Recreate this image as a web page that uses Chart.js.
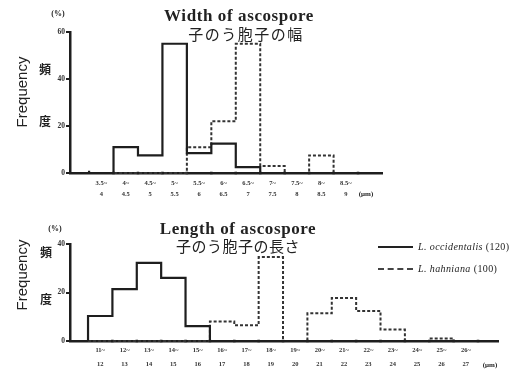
<!DOCTYPE html>
<html><head><meta charset="utf-8">
<script src="https://cdn.jsdelivr.net/npm/chart.js@4.4.1/dist/chart.umd.min.js"></script>
<style>
body{margin:0;width:512px;height:371px;position:relative;background:#fff;overflow:hidden;color:#222}
.t{position:absolute;white-space:nowrap;transform:translate(-50%,-50%);line-height:1}
.ser{font-family:"Liberation Serif","DejaVu Serif",serif}
.jp{font-family:"Noto Sans CJK JP",sans-serif}
canvas{position:absolute;left:0}
</style></head>
<body>
<canvas id="c1" width="512" height="200" style="top:0"></canvas>
<canvas id="c2" width="512" height="171" style="top:200px"></canvas>

<div class="t ser" style="left:239px;top:15px;font-size:17px;font-weight:bold;letter-spacing:0.6px">Width of ascospore</div>
<div class="t jp" style="left:246px;top:33px;font-size:15px;letter-spacing:1.5px">子のう胞子の幅</div>
<div class="t ser" style="left:238px;top:228px;font-size:17px;font-weight:bold;letter-spacing:0.6px">Length of ascospore</div>
<div class="t jp" style="left:238px;top:245px;font-size:15px;letter-spacing:0.5px">子のう胞子の長さ</div>

<div class="t ser" style="left:58px;top:14px;font-size:8px;font-weight:bold">(%)</div>
<div class="t ser" style="left:55px;top:229px;font-size:8px;font-weight:bold">(%)</div>

<div class="t" style="left:21px;top:92px;font-size:15px;font-family:'Liberation Sans',sans-serif;transform:translate(-50%,-50%) rotate(-90deg)">Frequency</div>
<div class="t" style="left:21px;top:275px;font-size:15px;font-family:'Liberation Sans',sans-serif;transform:translate(-50%,-50%) rotate(-90deg)">Frequency</div>
<div class="t jp" style="left:45px;top:69px;font-size:12px;font-weight:bold">頻</div>
<div class="t jp" style="left:45px;top:121px;font-size:12px;font-weight:bold">度</div>
<div class="t jp" style="left:46px;top:252px;font-size:12px;font-weight:bold">頻</div>
<div class="t jp" style="left:46px;top:299px;font-size:12px;font-weight:bold">度</div>

<div class="t ser" style="left:366px;top:194px;font-size:7px;font-weight:bold">(μm)</div>
<div class="t ser" style="left:490px;top:365px;font-size:7px;font-weight:bold">(μm)</div>

<div style="position:absolute;left:378px;top:246px;width:35px;border-top:2px solid #222"></div>
<div style="position:absolute;left:378px;top:268px;width:35px;border-top:2px dashed #444"></div>
<div class="t ser" style="left:418px;top:247px;font-size:10px;letter-spacing:0.4px;transform:translate(0,-50%)"><i>L. occidentalis</i> (120)</div>
<div class="t ser" style="left:418px;top:269px;font-size:10px;letter-spacing:0.4px;transform:translate(0,-50%)"><i>L. hahniana</i> (100)</div>

<script>
// ---- Width of ascospore (μm), bin edges and frequencies (%)
const widthEdges = [3.5,4,4.5,5,5.5,6,6.5,7,7.5,8,8.5,9];
const widthTop = ["3.5~","4~","4.5~","5~","5.5~","6~","6.5~","7~","7.5~","8~","8.5~"];
const widthBottom = ["4","4.5","5","5.5","6","6.5","7","7.5","8","8.5","9"];
const widthOccidentalis = [1,0,11,7.5,55,8.5,12.5,2.5,0,0,0];
const widthHahniana = [0,0,0,0,0,11,22,55,3,0,7.5];
const widthYTicks = [0,20,40,60];

// ---- Length of ascospore (μm)
const lengthEdges = [11,12,13,14,15,16,17,18,19,20,21,22,23,24,25,26,27];
const lengthTop = ["11~","12~","13~","14~","15~","16~","17~","18~","19~","20~","21~","22~","23~","24~","25~","26~"];
const lengthBottom = ["12","13","14","15","16","17","18","19","20","21","22","23","24","25","26","27"];
const lengthOccidentalis = [3,10.3,21.4,32.2,26,6.1,0,0,0,0,0,0,0,0,0,0];
const lengthHahniana = [0,0,0,0,0,0,8,6.5,34.6,0,11.4,17.7,12.4,4.7,0,1];
const lengthYTicks = [0,20,40];

const INK = '#1e1e1e';

function stepPoints(edges, vals){
  const pts = [{x:edges[0], y:0}];
  vals.forEach((v,i)=>pts.push({x:edges[i], y:v}));
  pts.push({x:edges[edges.length-1], y:0});
  return pts;
}

function makeChart(id, cfg){
  const centers = cfg.edges.slice(0,-1).map((e,i)=>(e+cfg.edges[i+1])/2);
  return new Chart(document.getElementById(id), {
    type:'line',
    data:{datasets:[
      {data:stepPoints(cfg.edges,cfg.occ), stepped:'after', borderColor:INK, borderWidth:2.2, pointRadius:0, fill:false, clip:false},
      {data:stepPoints(cfg.edges,cfg.hah), stepped:'after', borderColor:'#333', borderWidth:2, borderDash:[3,2], pointRadius:0, fill:false, clip:false},
      {type:'scatter', data:cfg.edges.slice(1).map(e=>({x:e,y:0})), pointStyle:'rect', pointRadius:1.8, backgroundColor:INK, borderColor:INK, borderWidth:0, clip:false}
    ]},
    options:{
      responsive:false, animation:false, devicePixelRatio:1,
      layout:{padding:cfg.pad},
      plugins:{legend:{display:false}, tooltip:{enabled:false}},
      scales:{
        x:{type:'linear', min:cfg.xmin, max:cfg.xmax,
          afterFit:s=>{s.height=cfg.xh;},
          afterBuildTicks:s=>{s.ticks=centers.map(v=>({value:v}));},
          grid:{display:false, drawTicks:false, tickLength:0},
          border:{display:true,color:INK,width:2.5},
          ticks:{autoSkip:false,maxRotation:0,padding:cfg.xpad,color:'#333',
            font:{family:'Liberation Serif',size:6.5,weight:'bold',lineHeight:cfg.lh},
            callback:(v,i)=>[cfg.top[i],cfg.bottom[i]]}
        },
        y:{min:0, max:cfg.ymax,
          afterFit:s=>{s.width=20;},
          afterBuildTicks:s=>{s.ticks=cfg.yt.map(v=>({value:v}));},
          grid:{display:true,drawOnChartArea:false,drawTicks:true,tickLength:4,color:INK,lineWidth:2},
          border:{display:true,color:INK,width:2.5},
          ticks:{padding:1,color:'#333',font:{family:'Liberation Serif',size:7.5,weight:'bold'}}
        }
      }
    }
  });
}

makeChart('c1',{edges:widthEdges, occ:widthOccidentalis, hah:widthHahniana, top:widthTop, bottom:widthBottom,
  xmin:3.11, xmax:9.49, ymax:60, yt:widthYTicks, pad:{left:50,top:32,right:130,bottom:0}, xh:27, xpad:5, lh:1.7});
makeChart('c2',{edges:lengthEdges, occ:lengthOccidentalis, hah:lengthHahniana, top:lengthTop, bottom:lengthBottom,
  xmin:10.26, xmax:27.82, ymax:40, yt:lengthYTicks, pad:{left:50,top:44,right:14,bottom:0}, xh:30, xpad:3, lh:2.1});
</script>
</body></html>
